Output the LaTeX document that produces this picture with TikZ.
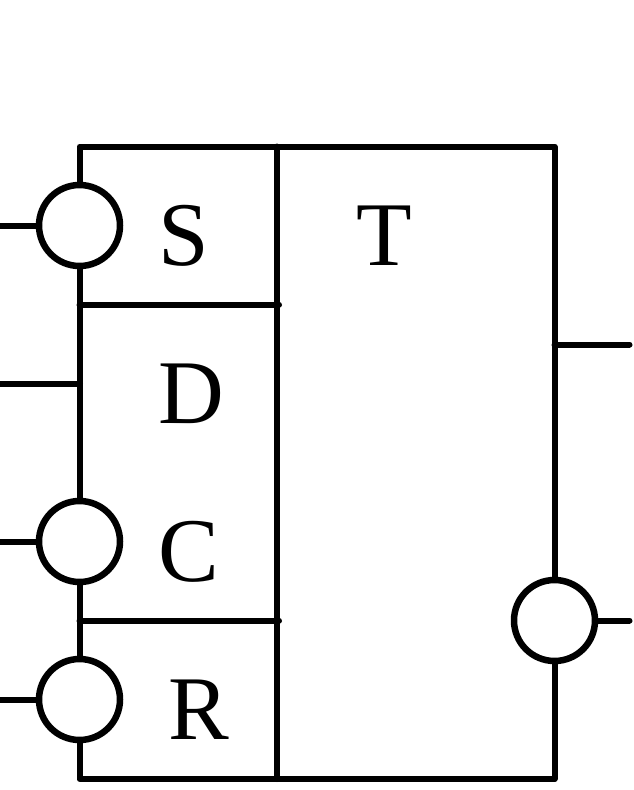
\documentclass[tikz,border=0pt]{standalone}
\usepackage{fontspec}
\setmainfont{Liberation Serif}
\usetikzlibrary{positioning}

\begin{document}
\begin{tikzpicture}[x=1pt, y=-1pt]
\tikzstyle{wire} = [line width=6pt, line cap=round, line join=round]
\tikzstyle{invcirc} = [circle, draw, fill=white, line width=6.5pt, minimum size=81pt, inner sep=0pt, outer sep=0pt]
\tikzstyle{pinlabel} = [inner sep=0pt, font=\fontsize{91pt}{91pt}\selectfont]

\useasboundingbox (0,0) rectangle (633,790);

% outline and dividers
\coordinate (tl) at (79.5,146.5);
\coordinate (tm) at (276.5,146.5);
\coordinate (tr) at (554.5,146.5);
\coordinate (bl) at (79.5,779);
\coordinate (bm) at (276.5,779);
\coordinate (br) at (554.5,779);
\coordinate (sdl) at (79.5,304.5);
\coordinate (sdr) at (279,304.5);
\coordinate (crl) at (79.5,620.5);
\coordinate (crr) at (279,620.5);
\draw [wire] (tl) -- (tr) -- (br) -- (bl) -- cycle;
\draw [wire] (tm) -- (bm);
\draw [wire] (sdl) -- (sdr);
\draw [wire] (crl) -- (crr);

% inputs
\coordinate (sin) at (-5,225.5);
\coordinate (din) at (-5,383.5);
\coordinate (dend) at (80,383.5);
\coordinate (cin) at (-5,541.5);
\coordinate (rin) at (-5,699.5);
\node (scirc) [invcirc] at (79.5,225.5) {};
\node (ccirc) [invcirc] at (79.5,541.5) {};
\node (rcirc) [invcirc] at (79.5,699.5) {};
\draw [wire] (sin) -- (scirc);
\draw [wire] (din) -- (dend);
\draw [wire] (cin) -- (ccirc);
\draw [wire] (rin) -- (rcirc);

% outputs
\coordinate (qstart) at (554.5,344.5);
\coordinate (qout) at (629.5,344.5);
\coordinate (nout) at (629.5,620.5);
\node (ncirc) [invcirc] at (554.5,620.5) {};
\draw [wire] (qstart) -- (qout);
\draw [wire] (ncirc) -- (nout);

% labels
\node (slabel) [pinlabel, anchor=base] at (184,265) {S};
\node (dlabel) [pinlabel, anchor=base] at (191,423) {D};
\node (clabel) [pinlabel, anchor=base] at (189,581) {C};
\node (rlabel) [pinlabel, anchor=base] at (198.5,739) {R};
\node (tlabel) [pinlabel, anchor=base] at (384,265) {T};
\end{tikzpicture}
\end{document}
